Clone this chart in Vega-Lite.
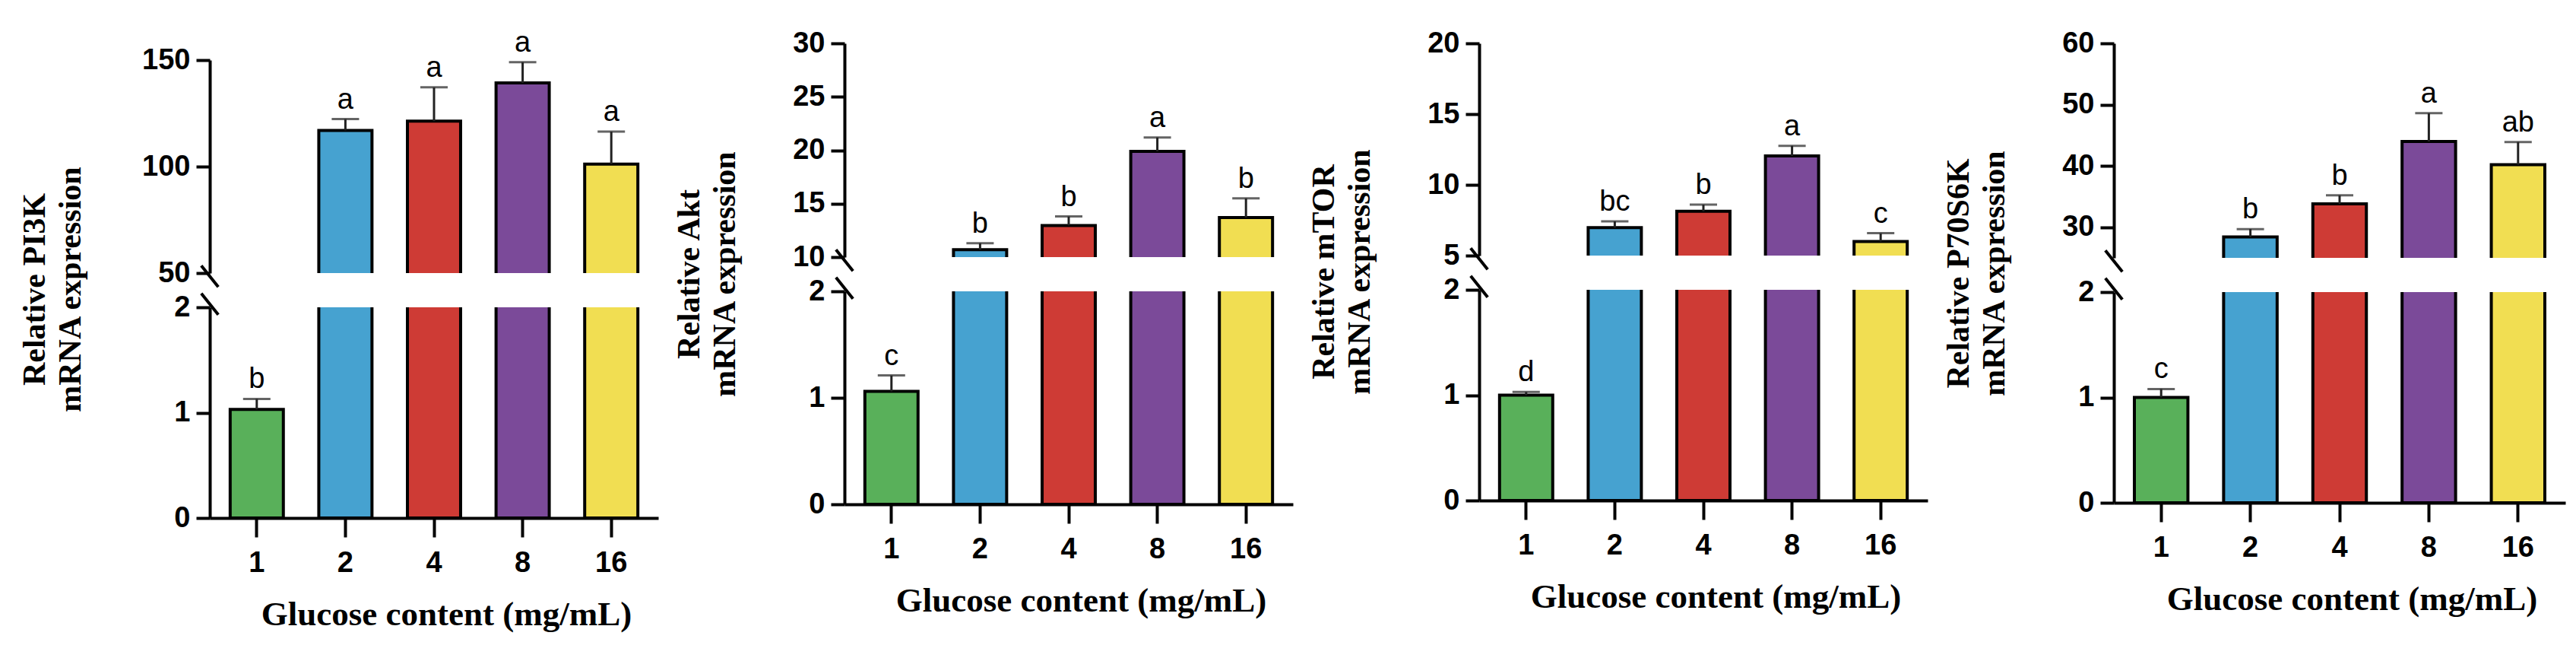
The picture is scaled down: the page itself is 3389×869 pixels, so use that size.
{
  "$schema": "https://vega.github.io/schema/vega-lite/v6.json",
  "background": "white",
  "padding": {"left": 24, "top": 37, "right": 4, "bottom": 4},
  "datasets": {
    "expr": [
      {"gene": "PI3K", "dose": "1", "mean": 1.03, "upper": 1.13, "letter": "b"},
      {"gene": "PI3K", "dose": "2", "mean": 117.0, "upper": 122.3, "letter": "a"},
      {"gene": "PI3K", "dose": "4", "mean": 121.3, "upper": 137.2, "letter": "a"},
      {"gene": "PI3K", "dose": "8", "mean": 139.3, "upper": 149.0, "letter": "a"},
      {"gene": "PI3K", "dose": "16", "mean": 101.2, "upper": 116.4, "letter": "a"},
      {"gene": "Akt", "dose": "1", "mean": 1.06, "upper": 1.21, "letter": "c"},
      {"gene": "Akt", "dose": "2", "mean": 10.7, "upper": 11.3, "letter": "b"},
      {"gene": "Akt", "dose": "4", "mean": 12.96, "upper": 13.8, "letter": "b"},
      {"gene": "Akt", "dose": "8", "mean": 19.9, "upper": 21.2, "letter": "a"},
      {"gene": "Akt", "dose": "16", "mean": 13.7, "upper": 15.5, "letter": "b"},
      {"gene": "mTOR", "dose": "1", "mean": 1.0, "upper": 1.03, "letter": "d"},
      {"gene": "mTOR", "dose": "2", "mean": 6.97, "upper": 7.42, "letter": "bc"},
      {"gene": "mTOR", "dose": "4", "mean": 8.13, "upper": 8.6, "letter": "b"},
      {"gene": "mTOR", "dose": "8", "mean": 12.04, "upper": 12.76, "letter": "a"},
      {"gene": "mTOR", "dose": "16", "mean": 5.99, "upper": 6.58, "letter": "c"},
      {"gene": "P70S6K", "dose": "1", "mean": 1.0, "upper": 1.08, "letter": "c"},
      {"gene": "P70S6K", "dose": "2", "mean": 28.4, "upper": 29.7, "letter": "b"},
      {"gene": "P70S6K", "dose": "4", "mean": 33.8, "upper": 35.2, "letter": "b"},
      {"gene": "P70S6K", "dose": "8", "mean": 44.0, "upper": 48.6, "letter": "a"},
      {"gene": "P70S6K", "dose": "16", "mean": 40.2, "upper": 43.9, "letter": "ab"}
    ]
  },
  "spacing": 19,
  "hconcat": [
    {
      "spacing": 0, "bounds": "flush",
      "vconcat": [
        {"width": 590, "height": 22, "data": {"values": []}, "mark": {"type": "point", "opacity": 0}, "encoding": {}},
        {
          "spacing": 45, "bounds": "flush",
          "vconcat": [
            {
              "width": 590, "height": 280,
              "data": {"name": "expr"},
              "transform": [{"filter": "datum.gene === 'PI3K'"}],
              "encoding": {"x": {"field": "dose", "type": "nominal", "scale": {"domain": ["1", "2", "4", "8", "16"], "paddingInner": 0.4, "paddingOuter": 0.23}, "axis": null}},
              "layer": [
                {"transform": [{"filter": "datum.dose !== '1'"}], "mark": {"type": "bar", "clip": true, "stroke": "black", "strokeWidth": 4},
                 "encoding": {"y": {"field": "mean", "type": "quantitative", "scale": {"domain": [50, 150], "nice": false, "zero": false}, "axis": {"values": [50, 100, 150], "format": ".0f", "title": null}},
                              "fill": {"field": "dose", "type": "nominal", "scale": {"domain": ["1", "2", "4", "8", "16"], "range": ["#59B05A", "#46A2D0", "#CE3B35", "#7B4A99", "#F1DE52"]}, "legend": null}}},
                {"transform": [{"filter": "datum.dose !== '1'"}], "mark": {"type": "rule", "color": "#222222", "strokeWidth": 3},
                 "encoding": {"y": {"field": "mean", "type": "quantitative"}, "y2": {"field": "upper"}}},
                {"transform": [{"filter": "datum.dose !== '1'"}], "mark": {"type": "tick", "color": "#222222", "size": 36, "thickness": 3},
                 "encoding": {"y": {"field": "upper", "type": "quantitative"}}},
                {"transform": [{"filter": "datum.dose !== '1'"}], "mark": {"type": "text", "font": "Liberation Sans", "fontSize": 38, "baseline": "alphabetic", "dy": -14, "color": "black"},
                 "encoding": {"y": {"field": "upper", "type": "quantitative"}, "text": {"field": "letter"}}},
                {"transform": [{"filter": "datum.dose === '1'"}], "mark": {"type": "point", "shape": "M-0.8,-0.7L0.8,1.3", "size": 784, "filled": false, "stroke": "black", "strokeWidth": 4, "opacity": 1},
                 "encoding": {"x": {"value": 0}, "y": {"datum": 50, "type": "quantitative"}}}
              ]
            },
            {
              "width": 590, "height": 277,
              "data": {"name": "expr"},
              "transform": [{"filter": "datum.gene === 'PI3K'"}],
              "encoding": {"x": {"field": "dose", "type": "nominal", "scale": {"domain": ["1", "2", "4", "8", "16"], "paddingInner": 0.4, "paddingOuter": 0.23}, "axis": {"title": "Glucose content (mg/mL)", "titleX": 311}}},
              "layer": [
                {"mark": {"type": "bar", "clip": true, "stroke": "black", "strokeWidth": 4},
                 "encoding": {"y": {"field": "mean", "type": "quantitative", "scale": {"domain": [0, 2], "nice": false}, "axis": {"values": [0, 1, 2], "format": ".0f", "title": ["Relative PI3K", "mRNA expression"], "titleY": -24, "titlePadding": 114}},
                              "fill": {"field": "dose", "type": "nominal", "scale": {"domain": ["1", "2", "4", "8", "16"], "range": ["#59B05A", "#46A2D0", "#CE3B35", "#7B4A99", "#F1DE52"]}, "legend": null}}},
                {"transform": [{"filter": "datum.dose === '1'"}], "mark": {"type": "rule", "color": "#222222", "strokeWidth": 3},
                 "encoding": {"y": {"field": "mean", "type": "quantitative"}, "y2": {"field": "upper"}}},
                {"transform": [{"filter": "datum.dose === '1'"}], "mark": {"type": "tick", "color": "#222222", "size": 36, "thickness": 3},
                 "encoding": {"y": {"field": "upper", "type": "quantitative"}}},
                {"transform": [{"filter": "datum.dose === '1'"}], "mark": {"type": "text", "font": "Liberation Sans", "fontSize": 38, "baseline": "alphabetic", "dy": -14, "color": "black"},
                 "encoding": {"y": {"field": "upper", "type": "quantitative"}, "text": {"field": "letter"}}},
                {"transform": [{"filter": "datum.dose === '1'"}], "mark": {"type": "point", "shape": "M-0.8,-1.3L0.8,0.7", "size": 784, "filled": false, "stroke": "black", "strokeWidth": 4, "opacity": 1},
                 "encoding": {"x": {"value": 0}, "y": {"datum": 2, "type": "quantitative"}}}
              ]
            }
          ]
        }
      ]
    },
    {
      "spacing": 45, "bounds": "flush",
      "vconcat": [
        {
          "width": 590, "height": 281,
          "data": {"name": "expr"},
          "transform": [{"filter": "datum.gene === 'Akt'"}],
          "encoding": {"x": {"field": "dose", "type": "nominal", "scale": {"domain": ["1", "2", "4", "8", "16"], "paddingInner": 0.4, "paddingOuter": 0.23}, "axis": null}},
          "layer": [
            {"transform": [{"filter": "datum.dose !== '1'"}], "mark": {"type": "bar", "clip": true, "stroke": "black", "strokeWidth": 4},
             "encoding": {"y": {"field": "mean", "type": "quantitative", "scale": {"domain": [10, 30], "nice": false, "zero": false}, "axis": {"values": [10, 15, 20, 25, 30], "format": ".0f", "title": null}},
                          "fill": {"field": "dose", "type": "nominal", "scale": {"domain": ["1", "2", "4", "8", "16"], "range": ["#59B05A", "#46A2D0", "#CE3B35", "#7B4A99", "#F1DE52"]}, "legend": null}}},
            {"transform": [{"filter": "datum.dose !== '1'"}], "mark": {"type": "rule", "color": "#222222", "strokeWidth": 3},
             "encoding": {"y": {"field": "mean", "type": "quantitative"}, "y2": {"field": "upper"}}},
            {"transform": [{"filter": "datum.dose !== '1'"}], "mark": {"type": "tick", "color": "#222222", "size": 36, "thickness": 3},
             "encoding": {"y": {"field": "upper", "type": "quantitative"}}},
            {"transform": [{"filter": "datum.dose !== '1'"}], "mark": {"type": "text", "font": "Liberation Sans", "fontSize": 38, "baseline": "alphabetic", "dy": -14, "color": "black"},
             "encoding": {"y": {"field": "upper", "type": "quantitative"}, "text": {"field": "letter"}}},
            {"transform": [{"filter": "datum.dose === '1'"}], "mark": {"type": "point", "shape": "M-0.8,-0.7L0.8,1.3", "size": 784, "filled": false, "stroke": "black", "strokeWidth": 4, "opacity": 1},
             "encoding": {"x": {"value": 0}, "y": {"datum": 10, "type": "quantitative"}}}
          ]
        },
        {
          "width": 590, "height": 280,
          "data": {"name": "expr"},
          "transform": [{"filter": "datum.gene === 'Akt'"}],
          "encoding": {"x": {"field": "dose", "type": "nominal", "scale": {"domain": ["1", "2", "4", "8", "16"], "paddingInner": 0.4, "paddingOuter": 0.23}, "axis": {"title": "Glucose content (mg/mL)", "titleX": 311}}},
          "layer": [
            {"mark": {"type": "bar", "clip": true, "stroke": "black", "strokeWidth": 4},
             "encoding": {"y": {"field": "mean", "type": "quantitative", "scale": {"domain": [0, 2], "nice": false}, "axis": {"values": [0, 1, 2], "format": ".0f", "title": ["Relative Akt", "mRNA expression"], "titleY": -23, "titlePadding": 88}},
                          "fill": {"field": "dose", "type": "nominal", "scale": {"domain": ["1", "2", "4", "8", "16"], "range": ["#59B05A", "#46A2D0", "#CE3B35", "#7B4A99", "#F1DE52"]}, "legend": null}}},
            {"transform": [{"filter": "datum.dose === '1'"}], "mark": {"type": "rule", "color": "#222222", "strokeWidth": 3},
             "encoding": {"y": {"field": "mean", "type": "quantitative"}, "y2": {"field": "upper"}}},
            {"transform": [{"filter": "datum.dose === '1'"}], "mark": {"type": "tick", "color": "#222222", "size": 36, "thickness": 3},
             "encoding": {"y": {"field": "upper", "type": "quantitative"}}},
            {"transform": [{"filter": "datum.dose === '1'"}], "mark": {"type": "text", "font": "Liberation Sans", "fontSize": 38, "baseline": "alphabetic", "dy": -14, "color": "black"},
             "encoding": {"y": {"field": "upper", "type": "quantitative"}, "text": {"field": "letter"}}},
            {"transform": [{"filter": "datum.dose === '1'"}], "mark": {"type": "point", "shape": "M-0.8,-1.3L0.8,0.7", "size": 784, "filled": false, "stroke": "black", "strokeWidth": 4, "opacity": 1},
             "encoding": {"x": {"value": 0}, "y": {"datum": 2, "type": "quantitative"}}}
          ]
        }
      ]
    },
    {
      "spacing": 45, "bounds": "flush",
      "vconcat": [
        {
          "width": 590, "height": 279,
          "data": {"name": "expr"},
          "transform": [{"filter": "datum.gene === 'mTOR'"}],
          "encoding": {"x": {"field": "dose", "type": "nominal", "scale": {"domain": ["1", "2", "4", "8", "16"], "paddingInner": 0.4, "paddingOuter": 0.23}, "axis": null}},
          "layer": [
            {"transform": [{"filter": "datum.dose !== '1'"}], "mark": {"type": "bar", "clip": true, "stroke": "black", "strokeWidth": 4},
             "encoding": {"y": {"field": "mean", "type": "quantitative", "scale": {"domain": [5, 20], "nice": false, "zero": false}, "axis": {"values": [5, 10, 15, 20], "format": ".0f", "title": null}},
                          "fill": {"field": "dose", "type": "nominal", "scale": {"domain": ["1", "2", "4", "8", "16"], "range": ["#59B05A", "#46A2D0", "#CE3B35", "#7B4A99", "#F1DE52"]}, "legend": null}}},
            {"transform": [{"filter": "datum.dose !== '1'"}], "mark": {"type": "rule", "color": "#222222", "strokeWidth": 3},
             "encoding": {"y": {"field": "mean", "type": "quantitative"}, "y2": {"field": "upper"}}},
            {"transform": [{"filter": "datum.dose !== '1'"}], "mark": {"type": "tick", "color": "#222222", "size": 36, "thickness": 3},
             "encoding": {"y": {"field": "upper", "type": "quantitative"}}},
            {"transform": [{"filter": "datum.dose !== '1'"}], "mark": {"type": "text", "font": "Liberation Sans", "fontSize": 38, "baseline": "alphabetic", "dy": -14, "color": "black"},
             "encoding": {"y": {"field": "upper", "type": "quantitative"}, "text": {"field": "letter"}}},
            {"transform": [{"filter": "datum.dose === '1'"}], "mark": {"type": "point", "shape": "M-0.8,-0.7L0.8,1.3", "size": 784, "filled": false, "stroke": "black", "strokeWidth": 4, "opacity": 1},
             "encoding": {"x": {"value": 0}, "y": {"datum": 5, "type": "quantitative"}}}
          ]
        },
        {
          "width": 590, "height": 277,
          "data": {"name": "expr"},
          "transform": [{"filter": "datum.gene === 'mTOR'"}],
          "encoding": {"x": {"field": "dose", "type": "nominal", "scale": {"domain": ["1", "2", "4", "8", "16"], "paddingInner": 0.4, "paddingOuter": 0.23}, "axis": {"title": "Glucose content (mg/mL)", "titleX": 311}}},
          "layer": [
            {"mark": {"type": "bar", "clip": true, "stroke": "black", "strokeWidth": 4},
             "encoding": {"y": {"field": "mean", "type": "quantitative", "scale": {"domain": [0, 2], "nice": false}, "axis": {"values": [0, 1, 2], "format": ".0f", "title": ["Relative mTOR", "mRNA expression"], "titleY": -24, "titlePadding": 88}},
                          "fill": {"field": "dose", "type": "nominal", "scale": {"domain": ["1", "2", "4", "8", "16"], "range": ["#59B05A", "#46A2D0", "#CE3B35", "#7B4A99", "#F1DE52"]}, "legend": null}}},
            {"transform": [{"filter": "datum.dose === '1'"}], "mark": {"type": "rule", "color": "#222222", "strokeWidth": 3},
             "encoding": {"y": {"field": "mean", "type": "quantitative"}, "y2": {"field": "upper"}}},
            {"transform": [{"filter": "datum.dose === '1'"}], "mark": {"type": "tick", "color": "#222222", "size": 36, "thickness": 3},
             "encoding": {"y": {"field": "upper", "type": "quantitative"}}},
            {"transform": [{"filter": "datum.dose === '1'"}], "mark": {"type": "text", "font": "Liberation Sans", "fontSize": 38, "baseline": "alphabetic", "dy": -14, "color": "black"},
             "encoding": {"y": {"field": "upper", "type": "quantitative"}, "text": {"field": "letter"}}},
            {"transform": [{"filter": "datum.dose === '1'"}], "mark": {"type": "point", "shape": "M-0.8,-1.3L0.8,0.7", "size": 784, "filled": false, "stroke": "black", "strokeWidth": 4, "opacity": 1},
             "encoding": {"x": {"value": 0}, "y": {"datum": 2, "type": "quantitative"}}}
          ]
        }
      ]
    },
    {
      "spacing": 45, "bounds": "flush",
      "vconcat": [
        {
          "width": 594, "height": 282,
          "data": {"name": "expr"},
          "transform": [{"filter": "datum.gene === 'P70S6K'"}],
          "encoding": {"x": {"field": "dose", "type": "nominal", "scale": {"domain": ["1", "2", "4", "8", "16"], "paddingInner": 0.4, "paddingOuter": 0.23}, "axis": null}},
          "layer": [
            {"transform": [{"filter": "datum.dose !== '1'"}], "mark": {"type": "bar", "clip": true, "stroke": "black", "strokeWidth": 4},
             "encoding": {"y": {"field": "mean", "type": "quantitative", "scale": {"domain": [25, 60], "nice": false, "zero": false}, "axis": {"values": [30, 40, 50, 60], "format": ".0f", "title": null}},
                          "fill": {"field": "dose", "type": "nominal", "scale": {"domain": ["1", "2", "4", "8", "16"], "range": ["#59B05A", "#46A2D0", "#CE3B35", "#7B4A99", "#F1DE52"]}, "legend": null}}},
            {"transform": [{"filter": "datum.dose !== '1'"}], "mark": {"type": "rule", "color": "#222222", "strokeWidth": 3},
             "encoding": {"y": {"field": "mean", "type": "quantitative"}, "y2": {"field": "upper"}}},
            {"transform": [{"filter": "datum.dose !== '1'"}], "mark": {"type": "tick", "color": "#222222", "size": 36, "thickness": 3},
             "encoding": {"y": {"field": "upper", "type": "quantitative"}}},
            {"transform": [{"filter": "datum.dose !== '1'"}], "mark": {"type": "text", "font": "Liberation Sans", "fontSize": 38, "baseline": "alphabetic", "dy": -14, "color": "black"},
             "encoding": {"y": {"field": "upper", "type": "quantitative"}, "text": {"field": "letter"}}},
            {"transform": [{"filter": "datum.dose === '1'"}], "mark": {"type": "point", "shape": "M-0.8,-0.7L0.8,1.3", "size": 784, "filled": false, "stroke": "black", "strokeWidth": 4, "opacity": 1},
             "encoding": {"x": {"value": 0}, "y": {"datum": 25, "type": "quantitative"}}}
          ]
        },
        {
          "width": 594, "height": 277,
          "data": {"name": "expr"},
          "transform": [{"filter": "datum.gene === 'P70S6K'"}],
          "encoding": {"x": {"field": "dose", "type": "nominal", "scale": {"domain": ["1", "2", "4", "8", "16"], "paddingInner": 0.4, "paddingOuter": 0.23}, "axis": {"title": "Glucose content (mg/mL)", "titleX": 313}}},
          "layer": [
            {"mark": {"type": "bar", "clip": true, "stroke": "black", "strokeWidth": 4},
             "encoding": {"y": {"field": "mean", "type": "quantitative", "scale": {"domain": [0, 2], "nice": false}, "axis": {"values": [0, 1, 2], "format": ".0f", "title": ["Relative P70S6K", "mRNA expression"], "titleY": -25, "titlePadding": 88}},
                          "fill": {"field": "dose", "type": "nominal", "scale": {"domain": ["1", "2", "4", "8", "16"], "range": ["#59B05A", "#46A2D0", "#CE3B35", "#7B4A99", "#F1DE52"]}, "legend": null}}},
            {"transform": [{"filter": "datum.dose === '1'"}], "mark": {"type": "rule", "color": "#222222", "strokeWidth": 3},
             "encoding": {"y": {"field": "mean", "type": "quantitative"}, "y2": {"field": "upper"}}},
            {"transform": [{"filter": "datum.dose === '1'"}], "mark": {"type": "tick", "color": "#222222", "size": 36, "thickness": 3},
             "encoding": {"y": {"field": "upper", "type": "quantitative"}}},
            {"transform": [{"filter": "datum.dose === '1'"}], "mark": {"type": "text", "font": "Liberation Sans", "fontSize": 38, "baseline": "alphabetic", "dy": -14, "color": "black"},
             "encoding": {"y": {"field": "upper", "type": "quantitative"}, "text": {"field": "letter"}}},
            {"transform": [{"filter": "datum.dose === '1'"}], "mark": {"type": "point", "shape": "M-0.8,-1.3L0.8,0.7", "size": 784, "filled": false, "stroke": "black", "strokeWidth": 4, "opacity": 1},
             "encoding": {"x": {"value": 0}, "y": {"datum": 2, "type": "quantitative"}}}
          ]
        }
      ]
    }
  ],
  "config": {
    "view": {"stroke": null},
    "axis": {
      "grid": false,
      "domainColor": "black", "domainWidth": 4,
      "tickColor": "black", "tickWidth": 4,
      "labelColor": "black", "labelFont": "Liberation Sans", "labelFontWeight": "bold", "labelFontSize": 38,
      "labelOverlap": false,
      "titleColor": "black", "titleFont": "Liberation Serif", "titleFontWeight": "bold"
    },
    "axisX": {"tickSize": 25, "labelPadding": 15, "labelAngle": 0, "titleFontSize": 45, "titlePadding": 26},
    "axisY": {"tickSize": 18, "labelPadding": 8, "titleFontSize": 42, "titleLineHeight": 47}
  }
}
